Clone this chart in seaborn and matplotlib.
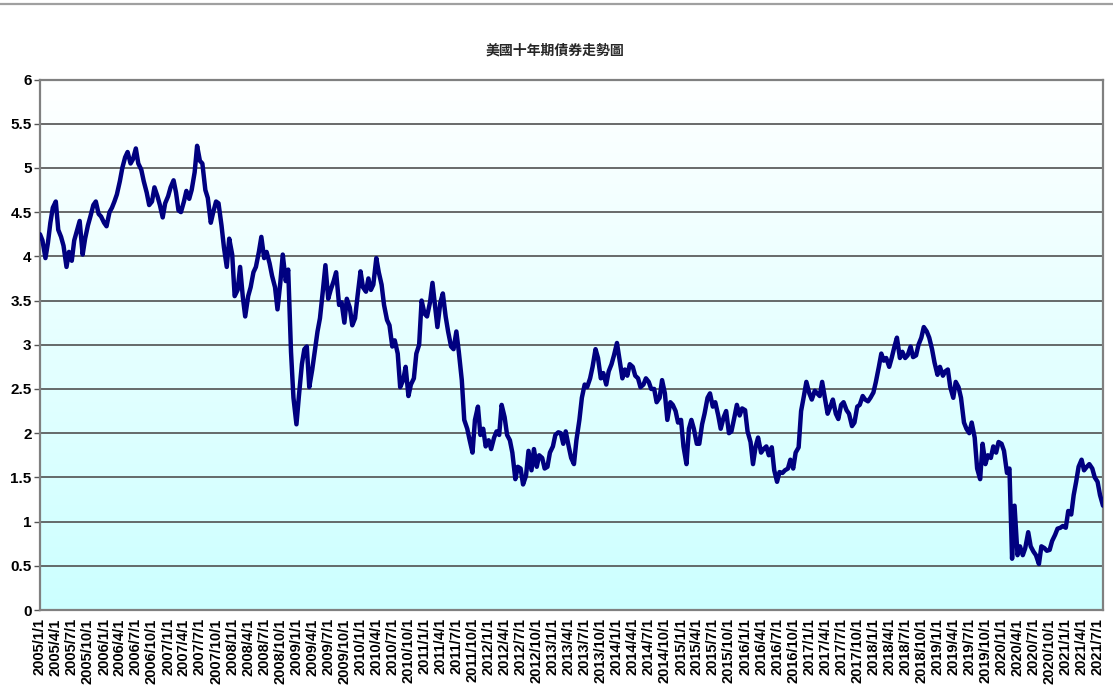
import matplotlib
matplotlib.use("Agg")
import matplotlib.pyplot as plt
import matplotlib.dates as mdates
from matplotlib.lines import Line2D
import numpy as np
import pandas as pd
import seaborn as sns

# semi-monthly readings (1st and 15th of each month), 10Y yield in %
y2005 = [4.25, 4.18, 3.98, 4.15, 4.38, 4.55, 4.62, 4.30, 4.22, 4.12, 3.88, 4.05,
         3.95, 4.18, 4.30, 4.40, 4.02, 4.20, 4.35, 4.45, 4.58, 4.62, 4.48, 4.45]
y2006 = [4.38, 4.34, 4.50, 4.55, 4.62, 4.70, 4.85, 5.00, 5.12, 5.18, 5.05, 5.10,
         5.22, 5.05, 4.98, 4.85, 4.72, 4.58, 4.62, 4.78, 4.68, 4.58, 4.44, 4.60]
y2007 = [4.68, 4.78, 4.86, 4.72, 4.52, 4.50, 4.62, 4.74, 4.65, 4.75, 4.95, 5.25,
         5.08, 5.05, 4.75, 4.66, 4.38, 4.50, 4.62, 4.60, 4.35, 4.10, 3.88, 4.20]
y2008 = [4.02, 3.55, 3.62, 3.88, 3.55, 3.32, 3.55, 3.65, 3.82, 3.88, 4.05, 4.22,
         3.98, 4.05, 3.92, 3.78, 3.65, 3.40, 3.70, 4.02, 3.72, 3.85, 2.92, 2.40]
y2009 = [2.10, 2.42, 2.78, 2.95, 2.98, 2.52, 2.72, 2.92, 3.15, 3.30, 3.62, 3.90,
         3.52, 3.62, 3.72, 3.82, 3.45, 3.48, 3.25, 3.52, 3.42, 3.22, 3.30, 3.55]
y2010 = [3.83, 3.65, 3.60, 3.75, 3.62, 3.68, 3.98, 3.82, 3.68, 3.45, 3.28, 3.22,
         2.98, 3.05, 2.90, 2.52, 2.60, 2.75, 2.42, 2.55, 2.62, 2.90, 3.00, 3.50]
y2011 = [3.35, 3.32, 3.48, 3.70, 3.45, 3.20, 3.48, 3.58, 3.32, 3.15, 2.98, 2.95,
         3.15, 2.92, 2.60, 2.15, 2.05, 1.92, 1.78, 2.15, 2.30, 1.98, 2.05, 1.85]
y2012 = [1.92, 1.82, 1.95, 2.02, 1.98, 2.32, 2.18, 1.98, 1.92, 1.78, 1.48, 1.62,
         1.60, 1.42, 1.52, 1.80, 1.58, 1.82, 1.62, 1.75, 1.72, 1.60, 1.62, 1.78]
y2013 = [1.85, 1.98, 2.01, 2.00, 1.88, 2.02, 1.85, 1.72, 1.65, 1.92, 2.15, 2.40,
         2.55, 2.52, 2.62, 2.75, 2.95, 2.85, 2.62, 2.68, 2.55, 2.70, 2.78, 2.88]
y2014 = [3.02, 2.84, 2.62, 2.72, 2.65, 2.78, 2.75, 2.65, 2.62, 2.52, 2.55, 2.62,
         2.58, 2.50, 2.50, 2.35, 2.40, 2.60, 2.45, 2.15, 2.35, 2.32, 2.25, 2.12]
y2015 = [2.15, 1.85, 1.65, 2.05, 2.15, 2.05, 1.88, 1.88, 2.10, 2.22, 2.40, 2.45,
         2.30, 2.35, 2.20, 2.05, 2.18, 2.25, 2.00, 2.02, 2.18, 2.32, 2.20, 2.28]
y2016 = [2.26, 2.02, 1.90, 1.65, 1.85, 1.95, 1.78, 1.82, 1.85, 1.75, 1.84, 1.58,
         1.45, 1.56, 1.55, 1.58, 1.60, 1.70, 1.60, 1.78, 1.84, 2.25, 2.42, 2.58]
y2017 = [2.45, 2.38, 2.48, 2.45, 2.42, 2.58, 2.38, 2.22, 2.30, 2.38, 2.22, 2.16,
         2.32, 2.35, 2.26, 2.22, 2.08, 2.12, 2.30, 2.32, 2.42, 2.38, 2.36, 2.40]
y2018 = [2.46, 2.58, 2.75, 2.90, 2.82, 2.85, 2.75, 2.85, 2.98, 3.08, 2.85, 2.92,
         2.85, 2.88, 2.98, 2.86, 2.88, 3.00, 3.08, 3.20, 3.15, 3.08, 2.95, 2.80]
y2019 = [2.66, 2.75, 2.65, 2.70, 2.72, 2.52, 2.40, 2.58, 2.52, 2.40, 2.12, 2.05,
         2.00, 2.12, 1.95, 1.60, 1.48, 1.88, 1.65, 1.75, 1.72, 1.85, 1.78, 1.90]
y2020 = [1.88, 1.80, 1.55, 1.60, 0.58, 1.18, 0.62, 0.72, 0.62, 0.70, 0.88, 0.72,
         0.66, 0.62, 0.52, 0.72, 0.70, 0.67, 0.68, 0.78, 0.85, 0.92, 0.93, 0.95]
y2021 = [0.93, 1.12, 1.08, 1.30, 1.45, 1.62, 1.70, 1.58, 1.62, 1.65, 1.60, 1.50,
         1.45, 1.30, 1.18]

values = (y2005 + y2006 + y2007 + y2008 + y2009 + y2010 + y2011 + y2012 + y2013
          + y2014 + y2015 + y2016 + y2017 + y2018 + y2019 + y2020 + y2021)
dates = pd.date_range("2005-01-01", periods=len(values), freq="SMS")
df = pd.DataFrame({"date": dates, "yield": values})

title = "美國十年期債券走勢圖"

sns.set_theme(style="white")
plt.rcParams["font.family"] = ["Liberation Sans", "Noto Sans CJK TC", "DejaVu Sans"]

fig = plt.figure(figsize=(11.13, 6.85), dpi=100)
ax = fig.add_axes([40 / 1113, 1 - 610 / 685, (1103 - 40) / 1113, (610 - 79.5) / 685])

# gradient background: white at top to light cyan at bottom
grad = np.linspace(0, 1, 256).reshape(-1, 1)
top_c = np.array([1.0, 1.0, 1.0])
bot_c = np.array([0.80, 1.0, 1.0])
img = top_c * (1 - grad[..., None]) + bot_c * grad[..., None]
ax.imshow(img, extent=[0, 1, 0, 1], transform=ax.transAxes, aspect="auto", zorder=0)

for v in np.arange(0.5, 6.0, 0.5):
    ax.axhline(v, color="#505050", lw=1.2, zorder=1)

sns.lineplot(data=df, x="date", y="yield", ax=ax, color="#000080", lw=3.2, zorder=3)

ax.set_xlim(pd.Timestamp("2005-01-01"), pd.Timestamp("2021-08-01"))
ax.set_ylim(0, 6)
ax.set_yticks(np.arange(0, 6.01, 0.5))
ax.set_yticklabels([f"{v:g}" for v in np.arange(0, 6.01, 0.5)])
ax.xaxis.set_major_locator(mdates.MonthLocator(bymonth=[1, 4, 7, 10]))
ax.xaxis.set_major_formatter(plt.FuncFormatter(
    lambda x, pos: "{0.year}/{0.month}/{0.day}".format(mdates.num2date(x))))
ax.set_xlabel("")
ax.set_ylabel("")

for s in ax.spines.values():
    s.set_color("#808080")
    s.set_linewidth(1.6)

ax.tick_params(axis="x", direction="in", length=5, width=1, color="#555555",
               labelsize=10.5, labelrotation=90, pad=6)
ax.tick_params(axis="y", direction="out", length=4, width=1, color="#555555",
               labelsize=11, pad=2, left=True)
for lab in ax.get_xticklabels() + ax.get_yticklabels():
    lab.set_fontweight("bold")
    lab.set_color("black")

fig.text(555 / 1113, 1 - 51 / 685, title, ha="center", va="center", fontsize=10,
         fontweight="bold", family=["Noto Sans CJK TC", "DejaVu Sans"])
fig.add_artist(Line2D([0, 1], [1 - 3.5 / 685, 1 - 3.5 / 685], transform=fig.transFigure,
                      color="#a0a0a0", lw=1.6))

fig.savefig("out.png", dpi=100)
